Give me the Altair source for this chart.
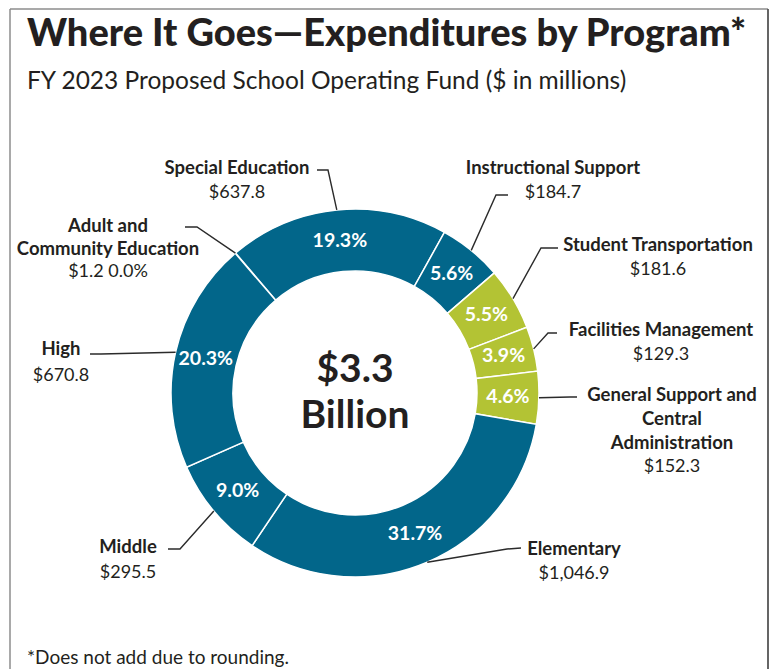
import math
import altair as alt
import pandas as pd

# ---------------- data ----------------
categories = [
    "Adult and Community Education",
    "Special Education",
    "Instructional Support",
    "Student Transportation",
    "Facilities Management",
    "General Support and Central Administration",
    "Elementary",
    "Middle",
    "High",
]
values = [1.2, 637.8, 184.7, 181.6, 129.3, 152.3, 1046.9, 295.5, 670.8]
pct_labels = ["0.0%", "19.3%", "5.6%", "5.5%", "3.9%", "4.6%", "31.7%", "9.0%", "20.3%"]
groups = ["Instruction", "Instruction", "Instruction", "Support", "Support", "Support",
          "Instruction", "Instruction", "Instruction"]
name_lines = [
    ["Adult and", "Community Education"],
    ["Special Education"],
    ["Instructional Support"],
    ["Student Transportation"],
    ["Facilities Management"],
    ["General Support and", "Central", "Administration"],
    ["Elementary"],
    ["Middle"],
    ["High"],
]
value_labels = ["$1.2 0.0%", "$637.8", "$184.7", "$181.6", "$129.3", "$152.3",
                "$1,046.9", "$295.5", "$670.8"]
title_text = "Where It Goes\u2014Expenditures by Program*"
subtitle_text = "FY 2023 Proposed School Operating Fund ($ in millions)"
center_lines = ["$3.3", "Billion"]
footnote_text = "*Does not add due to rounding."

# ---------------- layout / style ----------------
W, H = 766, 661          # view size
OX, OY = 8, 8            # page offset of the view
CX, CY = 355, 393        # donut centre (page px)
R_OUT, R_IN, R_PCT = 184, 122, 153
START = math.radians(-40.6)
TEAL = "#02668A"
GREEN = "#B3C334"
INK = "#231F20"
FONT = "Lato"

# category -> (centre x, first line y, line step)
label_pos = {
    "Adult and Community Education": (108, 226, 23),
    "Special Education": (237, 168, 25),
    "Instructional Support": (553, 168, 25),
    "Student Transportation": (658, 245, 25),
    "Facilities Management": (661, 330, 25),
    "General Support and Central Administration": (672, 395, 24),
    "Elementary": (574, 549, 25),
    "Middle": (128, 547, 26),
    "High": (61, 349, 27),
}
# category -> leader elbow and end points (page px); start is on the ring edge
leader_pts = {
    "Adult and Community Education": [(197, 227), (185, 227)],
    "Special Education": [(328, 170), (317, 170)],
    "Instructional Support": [(496, 195), (508, 195)],
    "Student Transportation": [(541, 248), (558, 248)],
    "Facilities Management": [(548, 333), (557, 333)],
    "General Support and Central Administration": [(570, 397), (577, 397)],
    "Elementary": [(507, 549), (521, 548)],
    "Middle": [(180, 549), (168, 549)],
    "High": [(101, 354), (90, 354)],
}

xs = alt.Scale(domain=[OX, OX + W], range=[0, W], zero=False, nice=False)
ys = alt.Scale(domain=[OY, OY + H], range=[0, H], zero=False, nice=False)

# ---------------- tables ----------------
arc_df = pd.DataFrame({
    "category": categories,
    "value": values,
    "group": groups,
    "ord": list(range(len(values))),
    "pct": [p if c != categories[0] else "" for p, c in zip(pct_labels, categories)],
})

total = sum(values)
rows = []
cum = 0.0
for c, v in zip(categories, values):
    ang = START + (cum + v / 2) / total * 2 * math.pi
    cum += v
    edge = (CX + R_OUT * math.sin(ang), CY - R_OUT * math.cos(ang))
    for i, (px, py) in enumerate([edge] + leader_pts[c]):
        rows.append({"category": c, "pt": i, "x": px, "y": py})
leader_df = pd.DataFrame(rows)

name_rows, val_rows = [], []
for c, lines, vl in zip(categories, name_lines, value_labels):
    lx, ly, step = label_pos[c]
    for i, t in enumerate(lines):
        name_rows.append({"x": lx, "y": ly + i * step, "t": t})
    val_rows.append({"x": lx, "y": ly + len(lines) * step, "t": vl})
name_df = pd.DataFrame(name_rows)
val_df = pd.DataFrame(val_rows)

center_df = pd.DataFrame({"x": [CX, CX], "y": [CY - 23, CY + 23], "t": center_lines})

frame_df = pd.DataFrame({
    "x": [10, 10], "y": [9, 9], "x2": [768, 10], "y2": [9, 669]
})
frame_r_df = pd.DataFrame({"x": [768], "y": [9], "x2": [768], "y2": [669]})

# ---------------- layers ----------------
frame = alt.Chart(frame_df).mark_rule(color="#8c8c8c", strokeWidth=1.5).encode(
    x=alt.X("x:Q", scale=xs, axis=None), y=alt.Y("y:Q", scale=ys, axis=None),
    x2="x2:Q", y2="y2:Q",
)
frame_r = alt.Chart(frame_r_df).mark_rule(color="#555555", strokeWidth=1.8).encode(
    x=alt.X("x:Q", scale=xs, axis=None), y=alt.Y("y:Q", scale=ys, axis=None),
    x2="x2:Q", y2="y2:Q",
)

base = alt.Chart(arc_df).encode(
    theta=alt.Theta("value:Q", stack=True,
                    scale=alt.Scale(range=[START, START + 2 * math.pi])),
    order=alt.Order("ord:Q"),
)
arcs = base.mark_arc(outerRadius=R_OUT, innerRadius=R_IN, stroke="white",
                     strokeWidth=1.5).encode(
    color=alt.Color("group:N", scale=alt.Scale(domain=["Instruction", "Support"],
                                               range=[TEAL, GREEN]), legend=None),
    x=alt.value(CX - OX), y=alt.value(CY - OY),
)
pct = base.mark_text(radius=R_PCT, font=FONT, fontWeight="bold", fontSize=19.5,
                     color="white", baseline="middle").encode(
    text="pct:N", x=alt.value(CX - OX), y=alt.value(CY - OY),
)

leaders = alt.Chart(leader_df).mark_line(color="#2b2b2b", strokeWidth=1.4).encode(
    x=alt.X("x:Q", scale=xs, axis=None), y=alt.Y("y:Q", scale=ys, axis=None),
    detail="category:N", order="pt:Q",
)

def text_layer(df, **kw):
    return alt.Chart(df).mark_text(font=FONT, color=INK, **kw).encode(
        x=alt.X("x:Q", scale=xs, axis=None), y=alt.Y("y:Q", scale=ys, axis=None),
        text="t:N",
    )

names = text_layer(name_df, fontSize=18.5, fontWeight="bold", align="center", baseline="middle")
vals = text_layer(val_df, fontSize=18, align="center", baseline="middle")
center = text_layer(center_df, fontSize=39, fontWeight="bold", align="center", baseline="middle")
title = text_layer(pd.DataFrame({"x": [27], "y": [46], "t": [title_text]}),
                   fontSize=38, fontWeight=900, align="left", baseline="alphabetic")
subtitle = text_layer(pd.DataFrame({"x": [27], "y": [89], "t": [subtitle_text]}),
                      fontSize=24.5, align="left", baseline="alphabetic")
foot = text_layer(pd.DataFrame({"x": [27], "y": [664], "t": [footnote_text]}),
                  fontSize=19, align="left", baseline="alphabetic")

chart = alt.layer(frame, frame_r, arcs, pct, leaders, names, vals, center, title,
                  subtitle, foot).properties(
    width=W, height=H, padding=0, autosize="none"
).configure_view(stroke=None)

chart.save("out.html", embed_options={"renderer": "svg", "actions": False})
